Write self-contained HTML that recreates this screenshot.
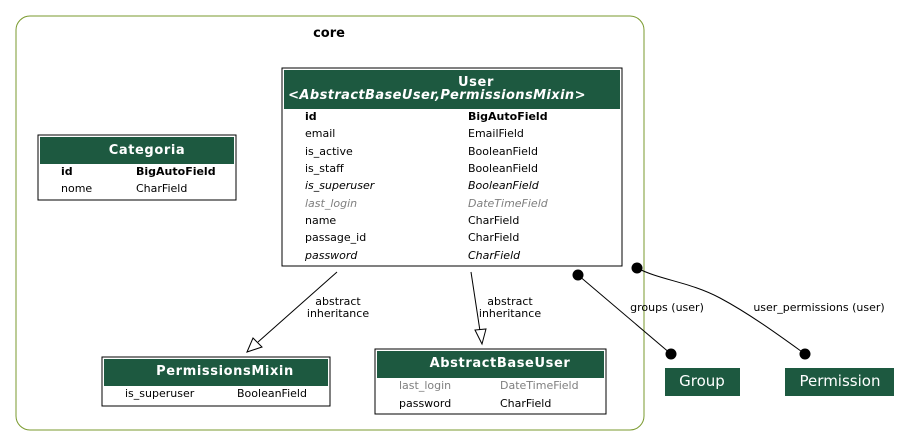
<!DOCTYPE html>
<html><head><meta charset="utf-8"><style>
html,body{margin:0;padding:0;background:#fff;width:911px;height:447px;overflow:hidden}
svg text{font-family:"DejaVu Sans","Liberation Sans",sans-serif}
.h{letter-spacing:0.6px}
</style></head><body>
<svg width="911" height="447" viewBox="0 0 911 447" xmlns="http://www.w3.org/2000/svg">
<rect x="16" y="16" width="628" height="414" rx="14" fill="none" stroke="#7a9a2e" stroke-width="1"/>
<text x="329" y="37" font-size="13" font-weight="bold" text-anchor="middle">core</text>

<!-- Categoria -->
<rect x="38" y="135" width="198" height="65" fill="#fff" stroke="#000"/>
<rect x="40" y="137" width="194" height="27" fill="#1d5940"/>
<text class="h" x="147" y="154" font-size="13" font-weight="bold" fill="#fff" text-anchor="middle">Categoria</text>
<g font-size="11">
<text x="61" y="175" font-weight="bold">id</text><text x="136" y="175" font-weight="bold">BigAutoField</text>
<text x="61" y="192">nome</text><text x="136" y="192">CharField</text>
</g>

<!-- User -->
<rect x="282" y="68" width="340" height="198" fill="#fff" stroke="#000"/>
<rect x="284" y="70" width="336" height="39" fill="#1d5940"/>
<text class="h" x="476" y="86" font-size="13" font-weight="bold" fill="#fff" text-anchor="middle">User</text>
<text x="437" y="99" font-size="13" font-weight="bold" font-style="italic" fill="#fff" text-anchor="middle" style="letter-spacing:0.4px">&lt;AbstractBaseUser,PermissionsMixin&gt;</text>
<g font-size="11">
<text x="305" y="120" font-weight="bold">id</text><text x="468" y="120" font-weight="bold">BigAutoField</text>
<text x="305" y="137">email</text><text x="468" y="137">EmailField</text>
<text x="305" y="155">is_active</text><text x="468" y="155">BooleanField</text>
<text x="305" y="172">is_staff</text><text x="468" y="172">BooleanField</text>
<text x="305" y="189" font-style="italic">is_superuser</text><text x="468" y="189" font-style="italic">BooleanField</text>
<text x="305" y="207" font-style="italic" fill="#7f7f7f">last_login</text><text x="468" y="207" font-style="italic" fill="#7f7f7f">DateTimeField</text>
<text x="305" y="224">name</text><text x="468" y="224">CharField</text>
<text x="305" y="241">passage_id</text><text x="468" y="241">CharField</text>
<text x="305" y="259" font-style="italic">password</text><text x="468" y="259" font-style="italic">CharField</text>
</g>

<!-- PermissionsMixin -->
<rect x="102" y="357" width="228" height="49" fill="#fff" stroke="#000"/>
<rect x="104" y="359" width="224" height="27" fill="#1d5940"/>
<text class="h" x="225" y="375" font-size="13" font-weight="bold" fill="#fff" text-anchor="middle">PermissionsMixin</text>
<text x="125" y="397" font-size="11">is_superuser</text><text x="237" y="397" font-size="11">BooleanField</text>

<!-- AbstractBaseUser -->
<rect x="375" y="349" width="231" height="65" fill="#fff" stroke="#000"/>
<rect x="377" y="351" width="227" height="27" fill="#1d5940"/>
<text class="h" x="500" y="367" font-size="13" font-weight="bold" fill="#fff" text-anchor="middle">AbstractBaseUser</text>
<g font-size="11">
<text x="399" y="389" fill="#7f7f7f">last_login</text><text x="500" y="389" fill="#7f7f7f">DateTimeField</text>
<text x="399" y="407">password</text><text x="500" y="407">CharField</text>
</g>

<!-- Group / Permission -->
<rect x="665" y="368" width="75" height="28" fill="#1d5940"/>
<text x="702" y="386" font-size="15" fill="#fff" text-anchor="middle">Group</text>
<rect x="785" y="368" width="109" height="28" fill="#1d5940"/>
<text x="840" y="386" font-size="15" fill="#fff" text-anchor="middle">Permission</text>

<!-- edges -->
<g stroke="#000" stroke-width="1" fill="none">
<line x1="337" y1="272" x2="258" y2="342"/>
<polygon points="247,352 253,338 262,347" fill="#fff"/>
<line x1="471" y1="272" x2="480" y2="331"/>
<polygon points="482,344 475,330 486,329" fill="#fff"/>
<line x1="578" y1="275" x2="671" y2="354"/>
<path d="M637,268 C660,280 690,282 720,298 C750,314 780,336 805,354"/>
</g>
<g fill="#000">
<circle cx="578" cy="275" r="5.5"/><circle cx="671" cy="354" r="5.5"/>
<circle cx="637" cy="268" r="5.5"/><circle cx="805" cy="354" r="5.5"/>
</g>
<g font-size="11" text-anchor="middle">
<text x="338" y="305">abstract</text><text x="338" y="317">inheritance</text>
<text x="510" y="305">abstract</text><text x="510" y="317">inheritance</text>
<text x="667" y="311">groups (user)</text>
<text x="819" y="311">user_permissions (user)</text>
</g>
</svg>
</body></html>
